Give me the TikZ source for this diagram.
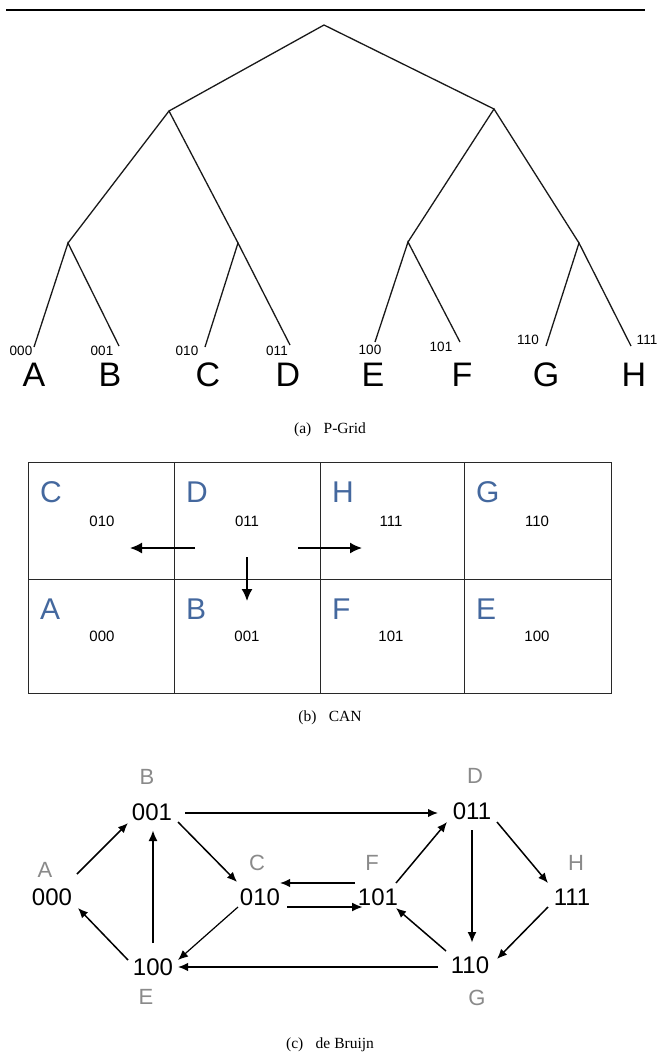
\documentclass[tikz,border=0pt]{standalone}
\usepackage{fontspec}
\setmainfont{Liberation Serif}
\newfontfamily\arialf{Liberation Sans}
\usetikzlibrary{arrows.meta,calc}
\definecolor{canblue}{RGB}{68,104,158}
\definecolor{dbgray}{RGB}{138,138,138}
\definecolor{gridline}{RGB}{40,40,40}
\tikzset{
  treeline/.style={line width=1.3pt, draw=black!90},
  leafbits/.style={font=\arialf\fontsize{13.5}{14}\selectfont, inner sep=0pt, anchor=center},
  leafname/.style={font=\arialf\fontsize{34}{36}\selectfont, inner sep=0pt, anchor=center},
  caption/.style={font=\fontsize{15.5}{17}\selectfont, inner sep=0pt, anchor=center},
  cell/.style={draw=gridline, line width=1pt},
  cellname/.style={font=\arialf\fontsize{30}{32}\selectfont, text=canblue, inner sep=0pt, anchor=base west},
  cellbits/.style={font=\arialf\fontsize{15}{16}\selectfont, inner sep=0pt, anchor=base},
  canarrow/.style={line width=1.6pt, -{Latex[length=12pt,width=11pt]}},
  dbnum/.style={font=\arialf\fontsize{24}{26}\selectfont, inner sep=0pt, anchor=center},
  dbname/.style={font=\arialf\fontsize{22}{24}\selectfont, text=dbgray, inner sep=0pt, anchor=center},
  thinarc/.style={line width=1.5pt, -{Latex[length=10pt,width=8.5pt]}},
  thickarc/.style={line width=2.4pt, -{Latex[length=11pt,width=9pt]}},
}
\begin{document}
\begin{tikzpicture}[x=1pt,y=-1pt]
\useasboundingbox (0,0) rectangle (660,1057);
% top rule
\coordinate (rl) at (6,10);
\coordinate (rr) at (645,10);
\draw[line width=2.2pt] (rl) -- (rr);

% ---------------- (a) P-Grid ----------------
\coordinate (root) at (324,25);
\coordinate (t0) at (169,111);
\coordinate (t1) at (494,109);
\coordinate (t00) at (68,243);
\coordinate (t01) at (238,243);
\coordinate (t10) at (408,242);
\coordinate (t11) at (579,243);
\coordinate (lA) at (34,347);
\coordinate (lB) at (119,346);
\coordinate (lC) at (205,347);
\coordinate (lD) at (290,345);
\coordinate (lE) at (375,342);
\coordinate (lF) at (460,342);
\coordinate (lG) at (546,346);
\coordinate (lH) at (631,346);
\draw[treeline] (t0) -- (root) -- (t1);
\draw[treeline] (t00) -- (t0) -- (t01);
\draw[treeline] (t10) -- (t1) -- (t11);
\draw[treeline] (lA) -- (t00) -- (lB);
\draw[treeline] (lC) -- (t01) -- (lD);
\draw[treeline] (lE) -- (t10) -- (lF);
\draw[treeline] (lG) -- (t11) -- (lH);
\node[leafbits] (bA) at (21,351) {000};
\node[leafbits] (bB) at (102,351) {001};
\node[leafbits] (bC) at (187,351) {010};
\node[leafbits] (bD) at (277,351) {011};
\node[leafbits] (bE) at (370,350) {100};
\node[leafbits] (bF) at (441,347) {101};
\node[leafbits] (bG) at (528,340) {110};
\node[leafbits] (bH) at (647,340) {111};
\node[leafname] (nA) at (34,375) {A};
\node[leafname] (nB) at (110,375) {B};
\node[leafname] (nC) at (208,375) {C};
\node[leafname] (nD) at (288,375) {D};
\node[leafname] (nE) at (373,375) {E};
\node[leafname] (nF) at (462,375) {F};
\node[leafname] (nG) at (546,375) {G};
\node[leafname] (nH) at (634,375) {H};
\node[caption] (capa) at (330,430) {(a)\hspace{0.8em}P-Grid};

% ---------------- (b) CAN ----------------
\draw[cell] (28,462) rectangle (611,693);
\draw[cell] (174,462) -- (174,693);
\draw[cell] (320,462) -- (320,693);
\draw[cell] (464,462) -- (464,693);
\draw[cell] (28,579) -- (611,579);
\node[cellname] (cC) at (40,502) {C};
\node[cellname] (cD) at (186,502) {D};
\node[cellname] (cH) at (332,502) {H};
\node[cellname] (cG) at (476,502) {G};
\node[cellname] (cA) at (40,619) {A};
\node[cellname] (cB) at (186,619) {B};
\node[cellname] (cF) at (332,619) {F};
\node[cellname] (cE) at (476,619) {E};
\node[cellbits] (kC) at (102,526) {010};
\node[cellbits] (kD) at (247,526) {011};
\node[cellbits] (kH) at (391,526) {111};
\node[cellbits] (kG) at (537,526) {110};
\node[cellbits] (kA) at (102,641) {000};
\node[cellbits] (kB) at (247,641) {001};
\node[cellbits] (kF) at (391,641) {101};
\node[cellbits] (kE) at (537,641) {100};
\coordinate (aLs) at (195,548);
\coordinate (aLe) at (130,548);
\coordinate (aDs) at (247,557);
\coordinate (aDe) at (247,601);
\coordinate (aRs) at (298,548);
\coordinate (aRe) at (362,548);
\draw[canarrow] (aLs) -- (aLe);
\draw[canarrow] (aDs) -- (aDe);
\draw[canarrow] (aRs) -- (aRe);
\node[caption] (capb) at (330,718) {(b)\hspace{0.8em}CAN};

% ---------------- (c) de Bruijn ----------------
\node[dbnum] (n000) at (52,897) {000};
\node[dbnum] (n001) at (152,812) {001};
\node[dbnum] (n010) at (260,897) {010};
\node[dbnum] (n100) at (153,967) {100};
\node[dbnum] (n011) at (472,811) {011};
\node[dbnum] (n101) at (378,897) {101};
\node[dbnum] (n111) at (572,897) {111};
\node[dbnum] (n110) at (470,965) {110};
\node[dbname] (gA) at (45,870) {A};
\node[dbname] (gB) at (147,777) {B};
\node[dbname] (gC) at (257,863) {C};
\node[dbname] (gE) at (146,997) {E};
\node[dbname] (gD) at (475,776) {D};
\node[dbname] (gF) at (372,863) {F};
\node[dbname] (gH) at (576,863) {H};
\node[dbname] (gG) at (477,998) {G};

\draw[thinarc] ($(n000)+(25,-23)$) -- ($(n001)+(-24,11)$);
\draw[thinarc] ($(n001)+(26,10)$) -- ($(n010)+(-23,-15)$);
\draw[thickarc] ($(n100)+(0,-24)$) -- ($(n001)+(1,18)$);
\draw[thinarc] ($(n100)+(-25,-7)$) -- ($(n000)+(26,11)$);
\draw[thinarc,line width=1.2pt] ($(n010)+(-22,10)$) -- ($(n100)+(25,-7)$);
\draw[thinarc] ($(n001)+(33,1)$) -- ($(n011)+(-34,2)$);
\draw[thinarc] ($(n101)+(-23,-14)$) -- ($(n010)+(20,-14)$);
\draw[thickarc] ($(n010)+(27,10)$) -- ($(n101)+(-15,10)$);
\draw[thinarc] ($(n110)+(-32,2)$) -- ($(n100)+(25,0)$);
\draw[thinarc] ($(n101)+(18,-14)$) -- ($(n011)+(-25,11)$);
\draw[thickarc] ($(n011)+(0,19)$) -- ($(n110)+(2,-22)$);
\draw[thinarc] ($(n011)+(25,11)$) -- ($(n111)+(-24,-14)$);
\draw[thinarc] ($(n111)+(-24,10)$) -- ($(n110)+(27,-6)$);
\draw[thinarc] ($(n110)+(-24,-14)$) -- ($(n101)+(18,11)$);
\node[caption] (capc) at (330,1045) {(c)\hspace{0.8em}de Bruijn};
\end{tikzpicture}
\end{document}
